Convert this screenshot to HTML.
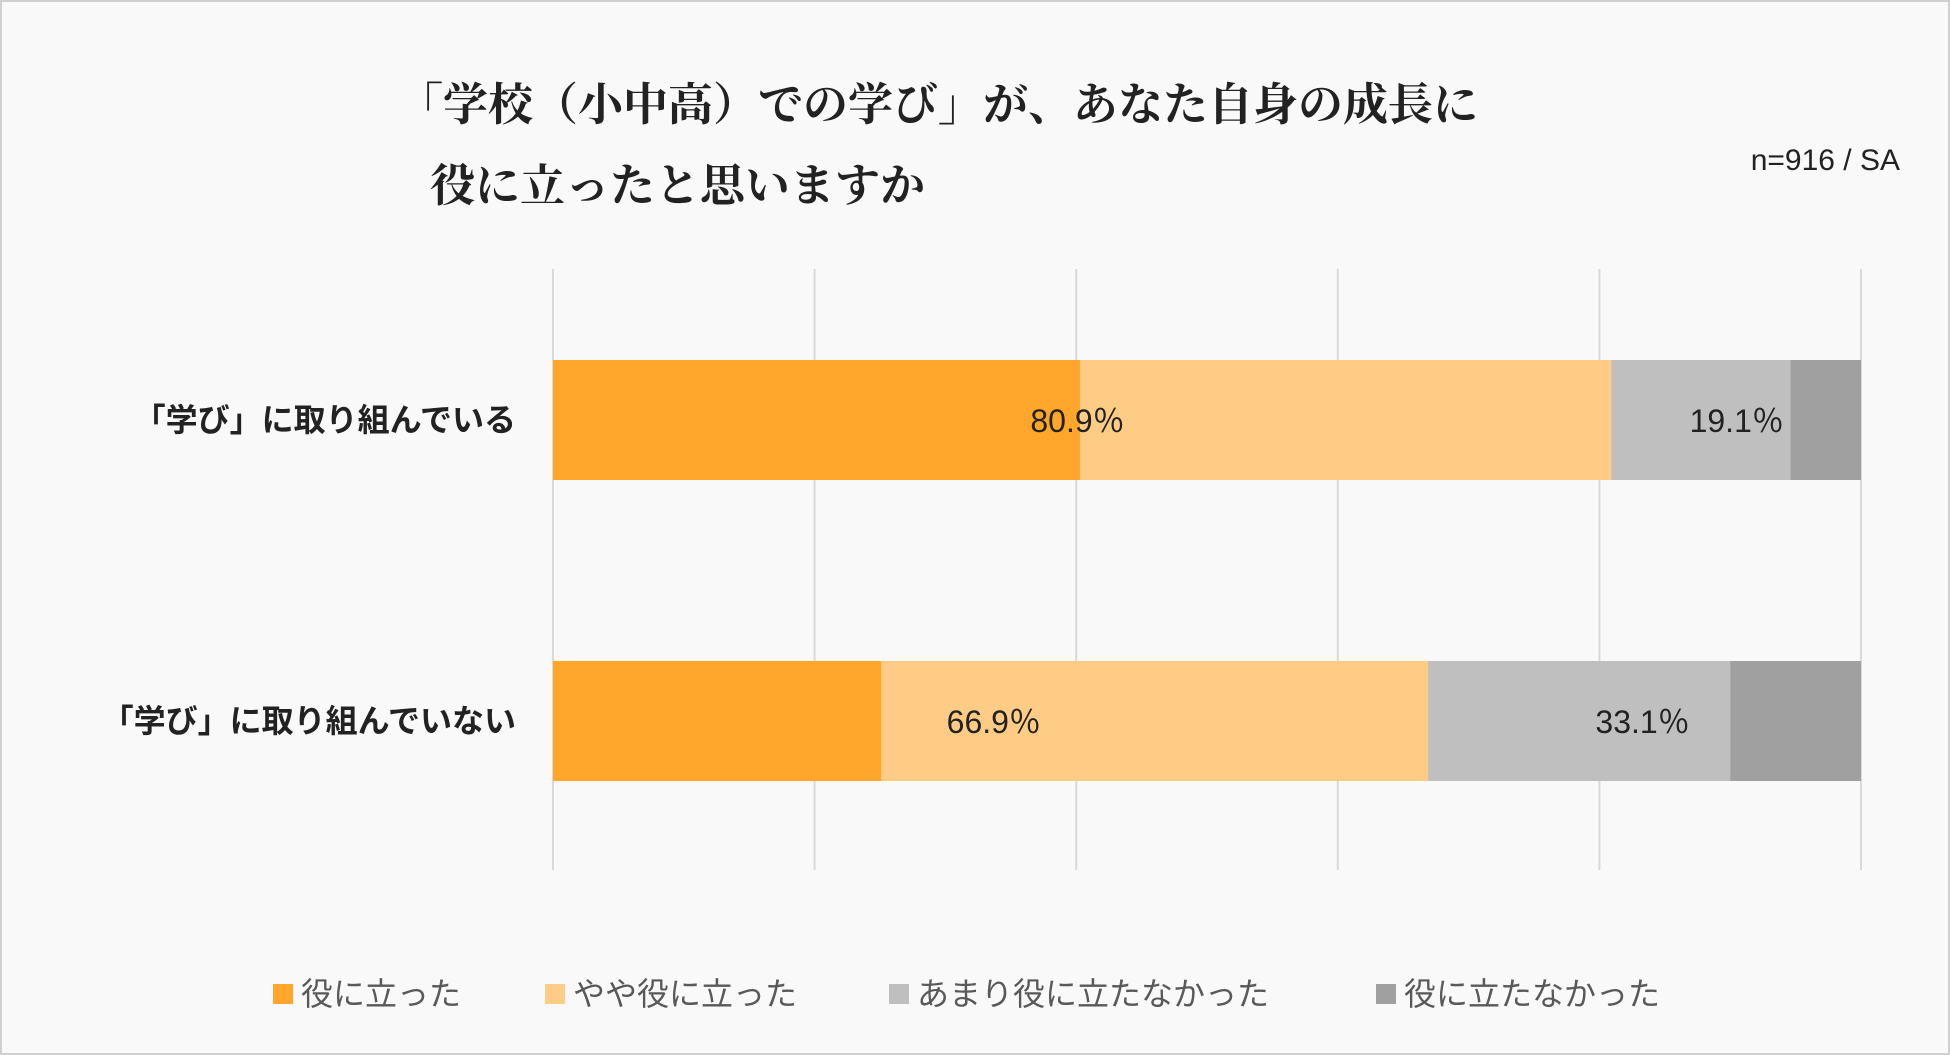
<!DOCTYPE html>
<html><head><meta charset="utf-8"><style>
body{margin:0;background:#fff}
#c{position:relative;width:1950px;height:1055px;background:#f9f9f9;box-sizing:border-box;border:2px solid #d0d0d0;overflow:hidden;font-family:"Liberation Sans","Noto Sans CJK JP",sans-serif}
.t{position:absolute;white-space:nowrap}
</style></head><body>
<div id="c">
<div class="t" style="left:396px;top:66px;font-size:45px;font-weight:bold;font-family:'Liberation Serif','Noto Serif CJK JP',serif;color:#222">「学校（小中高）での学び」が、あなた自身の成長に</div>
<div class="t" style="left:428px;top:147px;font-size:45px;font-weight:bold;font-family:'Liberation Serif','Noto Serif CJK JP',serif;color:#222">役に立ったと思いますか</div>
<div class="t" style="right:48px;top:142px;font-size:30px;color:#222">n=916 / SA</div>
<svg id="s" width="1950" height="1055" style="position:absolute;left:0;top:0"></svg>
</div>
<script>
const categories=["「学び」に取り組んでいる","「学び」に取り組んでいない"];
const seriesNames=["役に立った","やや役に立った","あまり役に立たなかった","役に立たなかった"];
const s1=[40.3,25.1];
const s2=[40.6,41.8];
const s3=[13.7,23.1];
const s4=[5.4,10.0];
const labelTexts=[["80.9％","19.1％"],["66.9％","33.1％"]];
const labelAt=[[40.1,90.5],[33.7,83.3]];
const ticks=[0,20,40,60,80,100];
const colors=["#FFA62B","#FFCC85","#BFBFBF","#A0A0A0"];
const svg=document.getElementById('s');const NS="http://www.w3.org/2000/svg";
const x0=551,x1=1859;const x=v=>x0+(x1-x0)*v/100;
const rowY=[358,659],bh=120;
function el(t,a){const e=document.createElementNS(NS,t);for(const k in a)e.setAttribute(k,a[k]);svg.appendChild(e);return e;}
ticks.forEach(t=>{const l=el('line',{x1:x(t),x2:x(t),y1:267,y2:868,stroke:'#d9d9d9','stroke-width':2});

});
const series=[s1,s2,s3,s4];
categories.forEach((c,i)=>{let acc=0;
series.forEach((sr,j)=>{const r=el('rect',{x:x(acc),y:rowY[i],width:x(acc+sr[i])-x(acc),height:bh,fill:colors[j]});

acc+=sr[i];});
const t=el('text',{x:514,y:rowY[i]+bh/2+11,'text-anchor':'end','font-size':32,'font-weight':'bold',fill:'#222'});t.textContent=c;


labelTexts[i].forEach((lt,k)=>{const v=el('text',{x:x(labelAt[i][k]),y:rowY[i]+bh/2+12,'text-anchor':'middle','font-size':32,fill:'#222'});v.textContent=lt;

});
});
const legX=[271,543,887,1374];
seriesNames.forEach((n,j)=>{const r=el('rect',{x:legX[j],y:982,width:20,height:20,fill:colors[j]});


const t=el('text',{x:legX[j]+28,y:1003,'font-size':32,fill:'#595959'});t.textContent=n;

});
</script>
</body></html>
